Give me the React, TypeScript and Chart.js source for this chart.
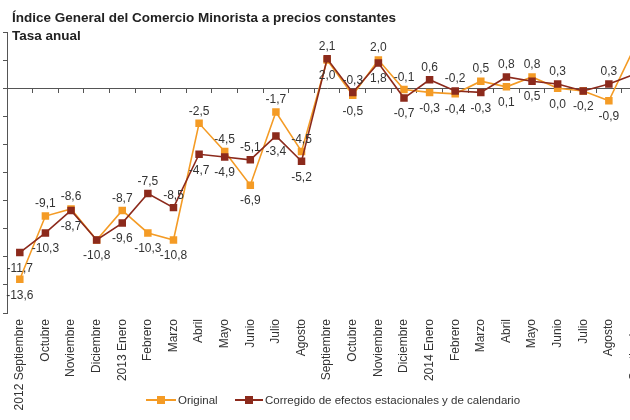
import React, { useEffect, useRef } from 'react';
import { Chart, registerables } from 'chart.js';

Chart.register(...registerables);

const categories = [
  '2012 Septiembre', 'Octubre', 'Noviembre', 'Diciembre', '2013 Enero', 'Febrero', 'Marzo', 'Abril',
  'Mayo', 'Junio', 'Julio', 'Agosto', 'Septiembre', 'Octubre', 'Noviembre', 'Diciembre',
  '2014 Enero', 'Febrero', 'Marzo', 'Abril', 'Mayo', 'Junio', 'Julio', 'Agosto', 'Septiembre',
];
const original = [
  -13.6, -9.1, -8.6, -10.8, -8.7, -10.3, -10.8, -2.5, -4.5, -6.9, -1.7, -4.5,
  2.0, -0.5, 2.0, -0.1, -0.3, -0.4, 0.5, 0.1, 0.8, 0.0, -0.2, -0.9, 2.9,
];
const corregido = [
  -11.7, -10.3, -8.7, -10.8, -9.6, -7.5, -8.5, -4.7, -4.9, -5.1, -3.4, -5.2,
  2.1, -0.3, 1.8, -0.7, 0.6, -0.2, -0.3, 0.8, 0.5, 0.3, -0.2, 0.3, 1.0,
];
const seriesNames = ['Original', 'Corregido de efectos estacionales y de calendario'];
const titleLines = ['Índice General del Comercio Minorista a precios constantes', 'Tasa anual'];
const yMin = -16;
const yMax = 4;
const yStep = 2;

const FRAME_W = 630;
const ORANGE = '#F49B25';
const DARKRED = '#8C2A1C';
const AXIS = '#555555';
const TEXT = '#333333';
const FONT = '"Liberation Sans", Arial, sans-serif';

const fmt = (v: number) => v.toFixed(1).replace('.', ',');

const labelPlugin = {
  id: 'pointValueLabels',
  afterDatasetsDraw(chart: any) {
    const ctx = chart.ctx;
    const mo = chart.getDatasetMeta(0);
    const mc = chart.getDatasetMeta(1);
    ctx.save();
    ctx.font = '12px ' + FONT;
    ctx.fillStyle = TEXT;
    ctx.textAlign = 'center';
    ctx.textBaseline = 'middle';
    const ABOVE = -12;
    const BELOW = 16;
    const draw = (t: string, x: number, y: number) => {
      const w = ctx.measureText(t).width;
      if (x + w / 2 > FRAME_W) return; // label lies outside the visible frame
      ctx.fillText(t, x, y);
    };
    for (let i = 0; i < categories.length; i++) {
      const a = original[i];
      const b = corregido[i];
      const pa = mo.data[i];
      const pb = mc.data[i];
      if (a === b) {
        draw(fmt(a), pa.x, pa.y + BELOW);
        continue;
      }
      const origAbove = a > b;
      const corrAbove = b > a && i !== 0;
      draw(fmt(a), pa.x, pa.y + (origAbove ? ABOVE : BELOW));
      draw(fmt(b), pb.x, pb.y + (corrAbove ? ABOVE : BELOW));
    }
    ctx.restore();
  },
};

function ChartCanvas() {
  const ref = useRef<HTMLCanvasElement | null>(null);
  useEffect(() => {
    if (!ref.current) return;
    const chart = new Chart(ref.current, {
      type: 'line',
      data: {
        labels: categories,
        datasets: [
          {
            label: seriesNames[0],
            data: original,
            borderColor: ORANGE,
            backgroundColor: ORANGE,
            borderWidth: 1.6,
            pointStyle: 'rect',
            pointRadius: 5.3,
            pointBorderWidth: 0,
            pointBackgroundColor: ORANGE,
            tension: 0,
            order: 1,
            xAxisID: 'x',
          },
          {
            label: seriesNames[1],
            data: corregido,
            borderColor: DARKRED,
            backgroundColor: DARKRED,
            borderWidth: 1.6,
            pointStyle: 'rect',
            pointRadius: 5.3,
            pointBorderWidth: 0,
            pointBackgroundColor: DARKRED,
            tension: 0,
            order: 0,
            xAxisID: 'x',
          },
        ],
      },
      options: {
        responsive: false,
        animation: false,
        devicePixelRatio: 1,
        layout: { padding: { left: 3, right: 6, top: 32, bottom: 0 } },
        plugins: {
          legend: { display: false },
          title: { display: false },
          tooltip: { enabled: false },
        },
        scales: {
          x: {
            type: 'category',
            position: 'bottom',
            offset: true,
            grid: { display: false, drawTicks: false },
            border: { display: false },
            ticks: {
              autoSkip: false,
              maxRotation: 90,
              minRotation: 90,
              padding: 6,
              color: TEXT,
              font: { family: FONT, size: 12 },
            },
            afterFit: (scale: any) => {
              scale.height = 107;
            },
          },
          x0: {
            type: 'category',
            position: { y: 0 },
            offset: true,
            grid: {
              display: true,
              drawOnChartArea: false,
              drawTicks: true,
              tickLength: 4,
              offset: true,
              color: AXIS,
            },
            border: { display: true, color: AXIS, width: 1 },
            ticks: { display: false, autoSkip: false },
          },
          y: {
            type: 'linear',
            position: 'left',
            min: yMin,
            max: yMax,
            ticks: { display: false, stepSize: yStep },
            grid: {
              display: true,
              drawOnChartArea: false,
              drawTicks: true,
              tickLength: 4,
              color: AXIS,
            },
            border: { display: true, color: AXIS, width: 1 },
          },
        },
      },
      plugins: [labelPlugin],
    } as any);
    return () => chart.destroy();
  }, []);
  return <canvas ref={ref} width={655} height={420} style={{ display: 'block', width: 655, height: 420 }} />;
}

export default function App() {
  const legendItem = (color: string, text: string, left: number, lineW: number) => (
    <div
      style={{
        position: 'absolute',
        left,
        top: 393,
        height: 14,
        display: 'flex',
        alignItems: 'center',
        whiteSpace: 'nowrap',
      }}
    >
      <div style={{ position: 'relative', width: lineW, height: 14 }}>
        <div style={{ position: 'absolute', left: 0, right: 0, top: 6, height: 2, background: color }} />
        <div
          style={{
            position: 'absolute',
            left: lineW / 2 - 4,
            top: 3,
            width: 8,
            height: 8,
            background: color,
          }}
        />
      </div>
      <span style={{ font: '11.5px ' + FONT, lineHeight: '14px', color: TEXT, marginLeft: 2 }}>{text}</span>
    </div>
  );
  return (
    <div
      style={{
        position: 'absolute',
        left: 0,
        top: 0,
        width: FRAME_W,
        height: 420,
        overflow: 'hidden',
        background: '#ffffff',
      }}
    >
      <ChartCanvas />
      <div
        style={{
          position: 'absolute',
          left: 12,
          top: 9,
          font: 'bold 13.5px ' + FONT,
          lineHeight: '18px',
          color: '#222222',
          whiteSpace: 'nowrap',
        }}
      >
        <div>{titleLines[0]}</div>
        <div>{titleLines[1]}</div>
      </div>
      {legendItem(ORANGE, seriesNames[0], 146, 30)}
      {legendItem(DARKRED, seriesNames[1], 235, 28)}
    </div>
  );
}
